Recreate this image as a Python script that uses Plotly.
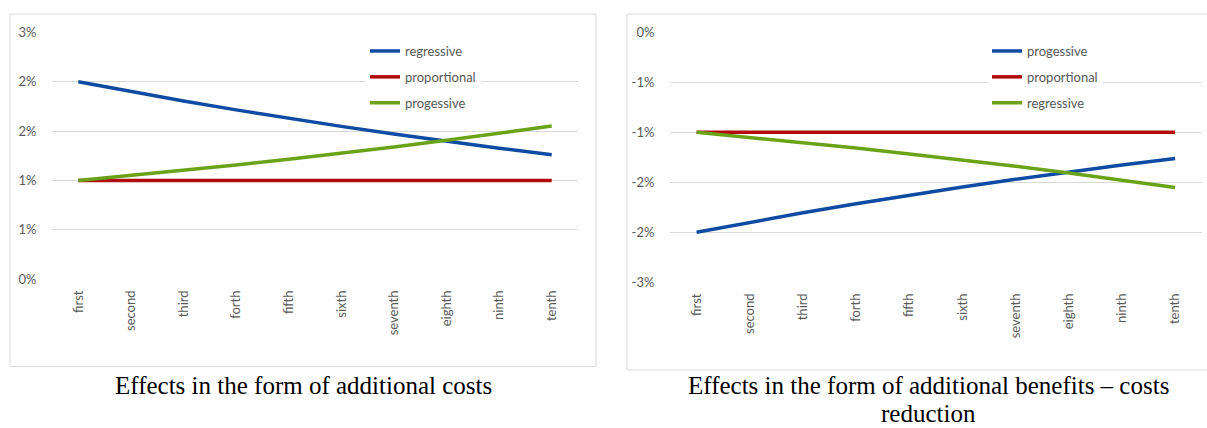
import plotly.graph_objects as go

categories = ["first", "second", "third", "forth", "fifth", "sixth", "seventh", "eighth", "ninth", "tenth"]

# Left panel: effects in the form of additional costs (%)
cost_regressive = [2.00, 1.90, 1.805, 1.715, 1.629, 1.548, 1.470, 1.397, 1.327, 1.261]
cost_proportional = [1.00, 1.00, 1.00, 1.00, 1.00, 1.00, 1.00, 1.00, 1.00, 1.00]
cost_progressive = [1.00, 1.05, 1.103, 1.158, 1.216, 1.276, 1.340, 1.407, 1.477, 1.551]

# Right panel: effects in the form of additional benefits (%)
ben_progressive = [-2.00, -1.90, -1.805, -1.715, -1.629, -1.548, -1.470, -1.397, -1.327, -1.261]
ben_proportional = [-1.00, -1.00, -1.00, -1.00, -1.00, -1.00, -1.00, -1.00, -1.00, -1.00]
ben_regressive = [-1.00, -1.05, -1.103, -1.158, -1.216, -1.276, -1.340, -1.407, -1.477, -1.551]

left_tickvals = [0, 0.5, 1.0, 1.5, 2.0, 2.5]
left_ticktext = ["0%", "1%", "1%", "2%", "2%", "3%"]
right_tickvals = [0, -0.5, -1.0, -1.5, -2.0, -2.5]
right_ticktext = ["0%", "-1%", "-1%", "-2%", "-2%", "-3%"]

BLUE = "#0F4AA3"
RED = "#B20B0B"
GREEN = "#6AA318"
W, H = 1207, 428
LW = 3.5

fig = go.Figure()

def add(x, y, name, color, xa, ya, legend, grp):
    fig.add_trace(go.Scatter(x=x, y=y, name=name, mode="lines",
                             line=dict(color=color, width=LW, shape="linear"),
                             xaxis=xa, yaxis=ya, legend=legend, legendgroup=grp,
                             hoverinfo="skip"))

add(categories, cost_regressive, "regressive", BLUE, "x", "y", "legend", "a1")
add(categories, cost_proportional, "proportional", RED, "x", "y", "legend", "a2")
add(categories, cost_progressive, "progessive", GREEN, "x", "y", "legend", "a3")
add(categories, ben_progressive, "progessive", BLUE, "x2", "y2", "legend2", "b1")
add(categories, ben_proportional, "proportional", RED, "x2", "y2", "legend2", "b2")
add(categories, ben_regressive, "regressive", GREEN, "x2", "y2", "legend2", "b3")

tickfont = dict(family="Lato, Noto Sans, sans-serif", size=13, color="#595959")
grid = "#D9D9D9"

def xax(domain, anchor):
    return dict(domain=domain, anchor=anchor, type="category", range=[-0.5, 9.5],
                tickangle=-90, tickfont=tickfont, showgrid=False, showline=False,
                zeroline=False, ticks="outside", ticklen=5, tickcolor="rgba(0,0,0,0)",
                automargin=False, fixedrange=True)

def yax(domain, anchor, rng, tv, tt):
    return dict(domain=domain, anchor=anchor, range=rng, tickvals=tv, ticktext=tt,
                tickfont=tickfont, showgrid=True, gridcolor=grid, gridwidth=1,
                zeroline=False, showline=False, ticks="outside", ticklen=12,
                tickcolor="rgba(0,0,0,0)", automargin=False, fixedrange=True)

legfont = dict(family="Lato, Noto Sans, sans-serif", size=13, color="#595959")

fig.update_layout(
    template="none",
    width=W, height=H,
    margin=dict(l=0, r=0, t=0, b=0, pad=0, autoexpand=False),
    paper_bgcolor="white", plot_bgcolor="white",
    showlegend=True,
    xaxis=xax([52 / W, 578 / W], "y"),
    yaxis=yax([1 - 279.3 / H, 1 - 32.3 / H], "x", [0, 2.5], left_tickvals, left_ticktext),
    xaxis2=xax([670 / W, 1201.7 / W], "y2"),
    yaxis2=yax([1 - 282.3 / H, 1 - 32.3 / H], "x2", [-2.5, 0], right_tickvals, right_ticktext),
    legend=dict(x=365 / W, y=1 - 36 / H, xanchor="left", yanchor="top",
                bgcolor="white", font=legfont, tracegroupgap=6, itemwidth=30),
    legend2=dict(x=987 / W, y=1 - 36 / H, xanchor="left", yanchor="top",
                 bgcolor="white", font=legfont, tracegroupgap=6, itemwidth=30),
)

# chart frames
fig.add_shape(type="rect", xref="paper", yref="paper",
              x0=10 / W, x1=596 / W, y0=1 - 366.5 / H, y1=1 - 14 / H,
              line=dict(color="#D9D9D9", width=1), layer="below")
fig.add_shape(type="rect", xref="paper", yref="paper",
              x0=627 / W, x1=1210 / W, y0=1 - 370 / H, y1=1 - 14 / H,
              line=dict(color="#D9D9D9", width=1), layer="below")

title_font = dict(family="Liberation Serif, Times New Roman, serif", size=25, color="#000000")
fig.add_annotation(text="Effects in the form of additional costs", xref="paper", yref="paper",
                   x=303 / W, y=1 - 385 / H, xanchor="center", yanchor="middle",
                   showarrow=False, font=title_font, borderpad=0)
fig.add_annotation(text="Effects in the form of additional benefits – costs", xref="paper", yref="paper",
                   x=928 / W, y=1 - 385 / H, xanchor="center", yanchor="middle",
                   showarrow=False, font=title_font, borderpad=0)
fig.add_annotation(text="reduction", xref="paper", yref="paper",
                   x=928 / W, y=1 - 413 / H, xanchor="center", yanchor="middle",
                   showarrow=False, font=title_font, borderpad=0)

fig.write_html("out.html")
